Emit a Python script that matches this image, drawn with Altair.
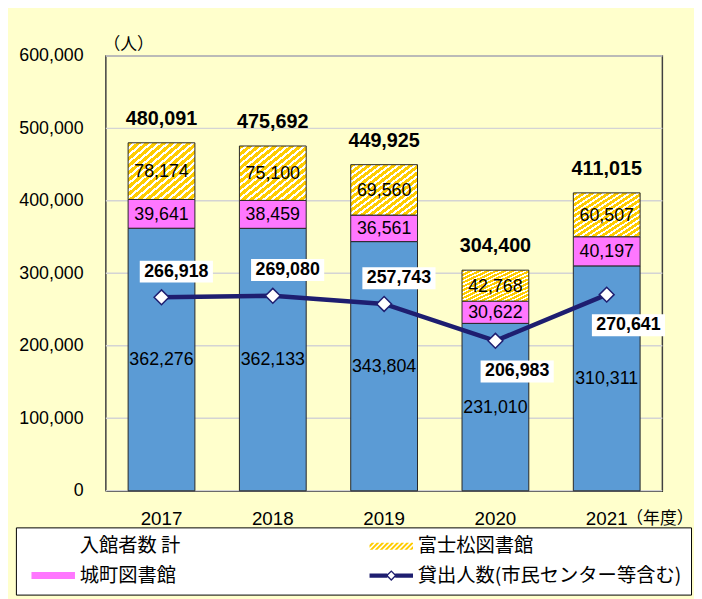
import altair as alt
import pandas as pd

# ---------------- data ----------------
years = ["2017", "2018", "2019", "2020", "2021"]
chuo = [362276, 362133, 343804, 231010, 310311]        # blue segment
shiromachi = [39641, 38459, 36561, 30622, 40197]       # 城町図書館 (pink)
fujimatsu = [78174, 75100, 69560, 42768, 60507]        # 富士松図書館 (yellow)
totals = [480091, 475692, 449925, 304400, 411015]      # 入館者数 計
loans = [266918, 269080, 257743, 206983, 270641]       # 貸出人数
y_ticks = [0, 100000, 200000, 300000, 400000, 500000, 600000]
# legend entries, listed column by column
legend_names = ["入館者数 計", "城町図書館", "富士松図書館", "貸出人数(市民センター等含む)"]
line_label_below = ["2020", "2021"]

df = pd.DataFrame({
    "year": years, "blue": chuo, "pink": shiromachi, "yellow": fujimatsu,
    "total": totals, "loans": loans,
})
tick_df = pd.DataFrame({"v": y_ticks})
legend_df = pd.DataFrame({"name": legend_names})

# ---------------- styles ----------------
BLUE = "#5B9BD5"
PINK = "#FF77FF"
YELLOW = "#FFCC00"
NAVY = "#1E1E70"
NUM_FONT = "Liberation Sans"
JP_FONT = "Noto Sans CJK JP"

# diagonal hatch for the yellow segments
N = 16
stops = []
for k in range(N):
    a = k / N
    m = (k + 0.6) / N
    b = (k + 1) / N
    stops += [alt.GradientStop(offset=a, color=YELLOW), alt.GradientStop(offset=m, color=YELLOW),
              alt.GradientStop(offset=m, color="#FFFFFF"), alt.GradientStop(offset=b, color="#FFFFFF")]
hatch = alt.LinearGradient(gradient="linear", stops=stops, x1=0, y1=0, x2=1, y2=1)

# ---------- legend symbol paths (unit = 7px, centre at 7px) ----------
U = 7.0
def ux(px):
    return (px - 7.0) / U
def uy(py):
    return py / U
def path_from(polys):
    out = []
    for poly in polys:
        pts = [f"{ux(x):.3f},{uy(y):.3f}" for x, y in poly]
        out.append("M" + "L".join(pts) + "Z")
    return "".join(out)

def clip(poly, xmin, xmax):
    def clip_edge(pts, inside, inter):
        res = []
        for i in range(len(pts)):
            cur, prev = pts[i], pts[i - 1]
            if inside(cur):
                if not inside(prev):
                    res.append(inter(prev, cur))
                res.append(cur)
            elif inside(prev):
                res.append(inter(prev, cur))
        return res
    def ix(xc):
        def f(p, q):
            t = (xc - p[0]) / (q[0] - p[0])
            return (xc, p[1] + t * (q[1] - p[1]))
        return f
    pts = clip_edge(poly, lambda p: p[0] >= xmin, ix(xmin))
    pts = clip_edge(pts, lambda p: p[0] <= xmax, ix(xmax))
    return pts

X0, X1, H = 4.0, 48.0, 3.5
rect = [(X0, -H), (X1, -H), (X1, H), (X0, H)]
rect_path = path_from([rect])
holes = []
a = X0 - 7.0
while a < X1:
    w = 2.2
    hole = [(a, H), (a + w, H), (a + w + 7.0, -H), (a + 7.0, -H)]
    c = clip(hole, X0 + 0.01, X1 - 0.01)
    if len(c) >= 3:
        holes.append(c)
    a += 5.0
hatch_path = path_from([rect] + holes)

cx, ro, ri, lh = 26.0, 5.5, 3.5, 2.1
line_sym = path_from([
    [(X0, -lh), (cx - 4.0, -lh), (cx - 4.0, lh), (X0, lh)],
    [(cx + 4.0, -lh), (X1, -lh), (X1, lh), (cx + 4.0, lh)],
    [(cx, -ro), (cx + ro, 0), (cx, ro), (cx - ro, 0)],
    [(cx, -ri), (cx - ri, 0), (cx, ri), (cx + ri, 0)],
])

# ---------------- encodings ----------------
x_enc = alt.X(
    "year:N", sort=years,
    scale=alt.Scale(paddingInner=0.4, paddingOuter=0.2),
    axis=alt.Axis(
        labelAngle=0, labelFont=NUM_FONT, labelFontSize=19, labelColor="black",
        labelBaseline="middle", labelPadding=28, ticks=False, tickSize=0,
        domainColor="black", domainWidth=1.5,
        title="（年度）", titleFont=JP_FONT, titleFontSize=17, titleFontWeight="normal",
        titleColor="black", titleX=526, titleY=28, titleAlign="left", titleBaseline="middle",
    ),
)
y_scale = alt.Scale(domain=[0, 600000], nice=False)
y_axis = alt.Axis(
    values=y_ticks, labelExpr="format(datum.value, ',')",
    labelFont=NUM_FONT, labelFontSize=18, labelColor="black",
    labelPadding=23, ticks=False, tickSize=0, domain=False, grid=False,
    title="（人）", titleFont=JP_FONT, titleFontSize=17, titleFontWeight="normal",
    titleColor="black", titleAngle=0, titleX=-3, titleY=-11, titleAlign="left",
    titleBaseline="middle",
)

def Y(field):
    return alt.Y(field, scale=y_scale)

# gridlines (also carries the y axis)
grid = alt.Chart(tick_df).mark_rule(color="#D4D4D4", strokeWidth=1.5).encode(
    y=alt.Y("v:Q", scale=y_scale, axis=y_axis))

base = alt.Chart(df).transform_calculate(
    b1="datum.blue + datum.pink",
    blue_mid="datum.blue / 2",
    pink_mid="datum.blue + datum.pink / 2",
    yellow_mid="datum.blue + datum.pink + datum.yellow / 2",
)

blue_bar = base.mark_bar(color=BLUE, stroke="#262626", strokeWidth=1).encode(
    x=x_enc, y=Y("blue:Q"))
pink_bar = base.mark_bar(color=PINK, stroke="#262626", strokeWidth=1).encode(
    x=x_enc, y=Y("b1:Q"), y2="blue:Q")
yellow_bar = base.mark_bar(color=hatch, stroke="#262626", strokeWidth=1).encode(
    x=x_enc, y=Y("total:Q"), y2="b1:Q")

seg_text = dict(font=NUM_FONT, fontSize=18, color="black", baseline="middle", dy=1)
blue_lbl = base.mark_text(**seg_text).encode(
    x=x_enc, y=Y("blue_mid:Q"), text=alt.Text("blue:Q", format=","))
pink_lbl = base.mark_text(**seg_text).encode(
    x=x_enc, y=Y("pink_mid:Q"), text=alt.Text("pink:Q", format=","))
yellow_lbl = base.mark_text(**seg_text).encode(
    x=x_enc, y=Y("yellow_mid:Q"), text=alt.Text("yellow:Q", format=","))
total_lbl = base.mark_text(font=NUM_FONT, fontSize=20, fontWeight="bold", color="black",
                           baseline="middle", dy=-24).encode(
    x=x_enc, y=Y("total:Q"), text=alt.Text("total:Q", format=","))

line = base.mark_line(color=NAVY, strokeWidth=4.5).encode(x=x_enc, y=Y("loans:Q"))
pts = base.mark_point(shape="diamond", filled=True, fill="white", stroke=NAVY, strokeWidth=1.5,
                      size=225, opacity=1).encode(x=x_enc, y=Y("loans:Q"))

box_shape = "M-1,-0.3H1V0.3H-1Z"
below = alt.FieldOneOfPredicate(field="year", oneOf=line_label_below)
above = alt.LogicalNotPredicate(**{"not": below})

def line_labels(pred, dx, dy):
    box = base.transform_filter(pred).mark_point(
        shape=box_shape, size=5476, filled=True, fill="white", strokeWidth=0, opacity=1,
        xOffset=dx, yOffset=dy).encode(x=x_enc, y=Y("loans:Q"))
    txt = base.transform_filter(pred).mark_text(
        font=NUM_FONT, fontSize=18, fontWeight="bold", color="black", baseline="middle",
        dx=dx, dy=dy).encode(x=x_enc, y=Y("loans:Q"), text=alt.Text("loans:Q", format=","))
    return box + txt

lbl_above = line_labels(above, 15, -26)
lbl_below = line_labels(below, 22, 31)

leg = alt.Legend(
    title=None, orient="none", legendX=-91, legendY=477, columns=2, columnPadding=184,
    rowPadding=9, padding=9, strokeColor="black", fillColor="white",
    labelFont=JP_FONT, labelFontSize=19.5, labelColor="black", labelOffset=36, labelLimit=400,
    symbolSize=196, symbolStrokeWidth=0, symbolOpacity=1,
)
legend_layer = alt.Chart(legend_df).transform_filter("false").mark_point(
    filled=True, strokeWidth=0).encode(
    color=alt.Color("name:N", scale=alt.Scale(domain=legend_names,
                    range=["transparent", PINK, YELLOW, NAVY]), legend=leg),
    shape=alt.Shape("name:N", scale=alt.Scale(domain=legend_names,
                    range=[rect_path, rect_path, hatch_path, line_sym]), legend=leg),
)

chart = alt.layer(
    grid, blue_bar, pink_bar, yellow_bar, blue_lbl, pink_lbl, yellow_lbl, total_lbl,
    line, pts, lbl_above, lbl_below, legend_layer,
).properties(
    width=563, height=440,
    padding={"left": 99, "top": 45, "right": 32, "bottom": 106},
    autosize=alt.AutoSizeParams(type="none"),
    background="#FFFFCC",
).configure_view(fill="white", stroke="#404040", strokeWidth=1.5)

chart.save("out.html", embed_options={"renderer": "svg", "actions": False})
